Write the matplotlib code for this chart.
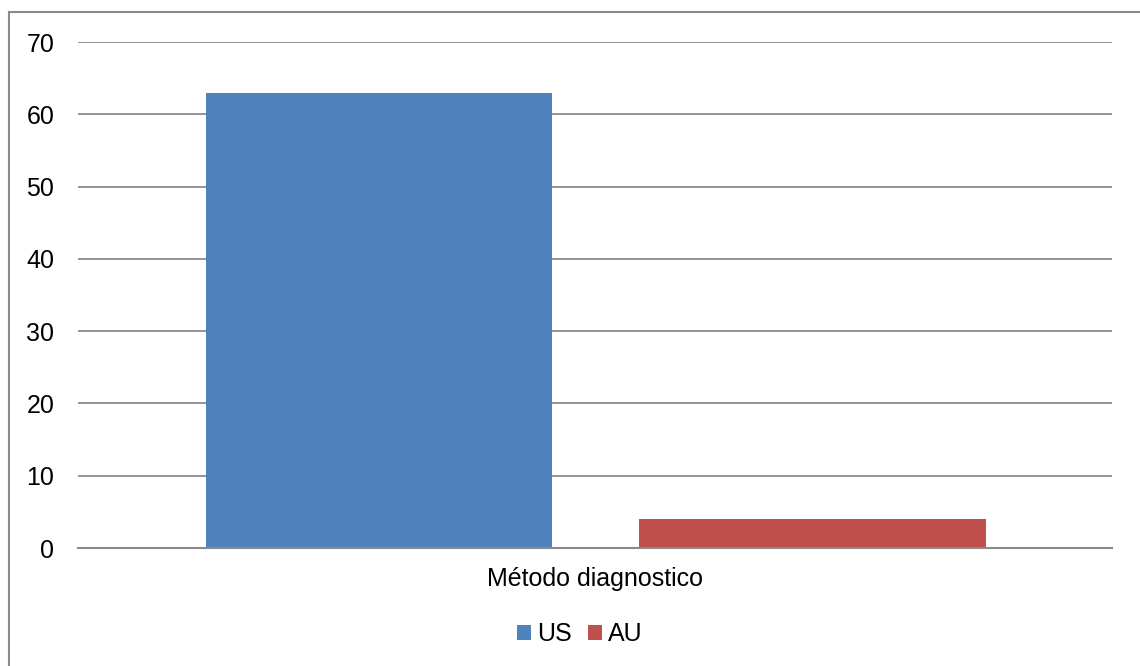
import matplotlib.pyplot as plt
from matplotlib.lines import Line2D

plt.rcParams['font.family'] = ['Liberation Sans', 'DejaVu Sans']

category = "Método diagnostico"
series = ["US", "AU"]
values = [63, 4]
colors = ["#4F81BD", "#C0504D"]
yticks = [0, 10, 20, 30, 40, 50, 60, 70]

W, H = 1140, 666
fig = plt.figure(figsize=(W / 100, H / 100), dpi=100)
ax = fig.add_axes([78 / W, 1 - 548 / H, (1112 - 78) / W, (548 - 42) / H])

offsets = [-0.209, 0.2105]
width = 0.335
for off, val, col, name in zip(offsets, values, colors, series):
    ax.bar(off, val, width=width, color=col, label=name, zorder=3)

ax.set_xlim(-0.5, 0.5)
ax.set_ylim(0, 70)
ax.set_yticks(yticks)
ax.set_xticks([0])
ax.set_xticklabels([category])
ax.tick_params(axis='both', length=0, labelsize=18)
ax.tick_params(axis='y', pad=17)
ax.tick_params(axis='x', pad=14)

ax.grid(axis='y', color='#8a8a8a', linewidth=1.3, zorder=0)
for side in ['left', 'right', 'top']:
    ax.spines[side].set_visible(False)
ax.spines['bottom'].set_color('#8a8a8a')
ax.spines['bottom'].set_linewidth(1.5)
ax.spines['bottom'].set_zorder(4)

leg = fig.legend(loc='center', bbox_to_anchor=(580 / W, 1 - 634 / H), ncol=2,
                 frameon=False, fontsize=18, handlelength=0.56, handleheight=0.56,
                 handletextpad=0.25, columnspacing=0.65)

# outer frame, only left and top edges
fig.add_artist(Line2D([8.5 / W, 8.5 / W], [0, 1 - 12 / H], color='#8a8a8a', linewidth=1.5,
                      transform=fig.transFigure))
fig.add_artist(Line2D([8.5 / W, 1], [1 - 12 / H, 1 - 12 / H], color='#8a8a8a', linewidth=1.5,
                      transform=fig.transFigure))

fig.savefig("out.png", dpi=100)
